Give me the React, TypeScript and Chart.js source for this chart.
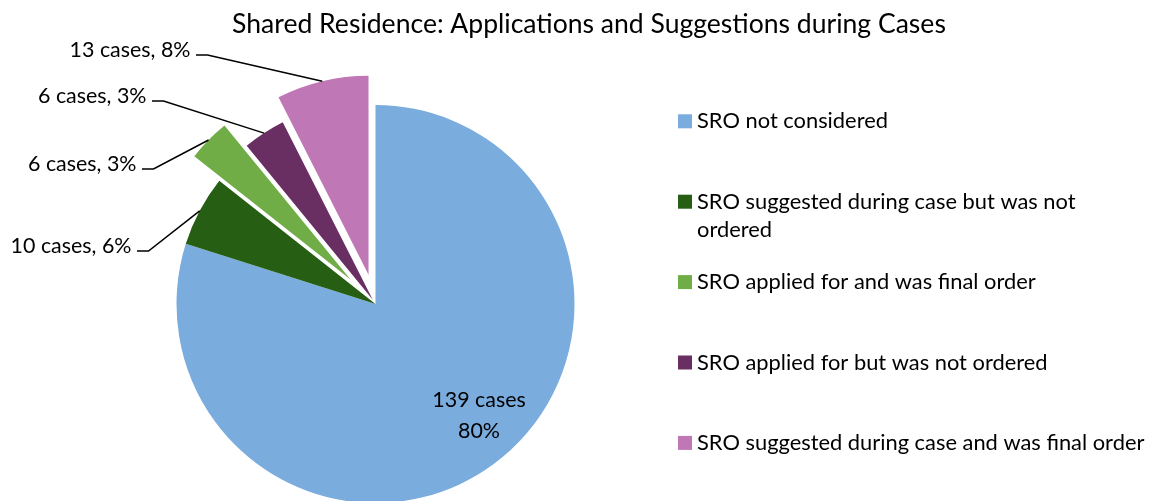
import React, { useEffect, useRef } from "react";
import { Chart, registerables } from "chart.js";

Chart.register(...registerables);

const chartTitle = "Shared Residence: Applications and Suggestions during Cases";
const categories = [
  "SRO not considered",
  "SRO suggested during case but was not ordered",
  "SRO applied for and was final order",
  "SRO applied for but was not ordered",
  "SRO suggested during case and was final order",
];
const cases = [139, 10, 6, 6, 13];
const percentLabels = [80, 6, 3, 3, 8];
const colors = ["#7AACDD", "#265E13", "#70AD47", "#6A2F62", "#C077B6"];
// explosion distance (px) of each slice
const explode = [0, 0, 35, 5, 30];
// outside label elbow anchors (layout), null = inside label
const labelAnchors: ({ x: number; y: number } | null)[] = [
  null,
  { x: 137, y: 251 },
  { x: 142, y: 169 },
  { x: 152, y: 101 },
  { x: 196, y: 55 },
];

const FONT = "Lato";

function fitSize(ctx: CanvasRenderingContext2D, text: string, target: number) {
  ctx.font = `100px ${FONT}`;
  const w = ctx.measureText(text).width;
  return (100 * target) / w;
}

function wrap(ctx: CanvasRenderingContext2D, text: string, maxW: number) {
  const words = text.split(" ");
  const lines: string[] = [];
  let cur = "";
  for (const w of words) {
    const t = cur ? cur + " " + w : w;
    if (ctx.measureText(t).width > maxW && cur) {
      lines.push(cur);
      cur = w;
    } else cur = t;
  }
  if (cur) lines.push(cur);
  return lines;
}

const explodePlugin = {
  id: "explodeSlices",
  afterDatasetUpdate(chart: any, args: any) {
    const meta = chart.getDatasetMeta(args.index);
    meta.data.forEach((arc: any, i: number) => {
      const d = explode[i] || 0;
      if (!d) return;
      const mid = (arc.startAngle + arc.endAngle) / 2;
      arc.x += d * Math.cos(mid);
      arc.y += d * Math.sin(mid);
    });
  },
};

const annotatePlugin = {
  id: "annotate",
  afterDraw(chart: any) {
    const ctx: CanvasRenderingContext2D = chart.ctx;
    const meta = chart.getDatasetMeta(0);
    ctx.save();
    ctx.fillStyle = "#000";

    // title
    const tSize = fitSize(ctx, chartTitle, 714);
    ctx.font = `${tSize}px ${FONT}`;
    ctx.textAlign = "center";
    ctx.textBaseline = "alphabetic";
    ctx.fillText(chartTitle, 589, 33);

    // data labels
    const lblSize = fitSize(ctx, `${cases[4]} cases, ${percentLabels[4]}%`, 121);
    ctx.font = `${lblSize}px ${FONT}`;
    meta.data.forEach((arc: any, i: number) => {
      const mid = (arc.startAngle + arc.endAngle) / 2;
      const anchor = labelAnchors[i];
      if (!anchor) {
        const a = mid - 0.117;
        const r = arc.outerRadius * 0.764;
        const cx = arc.x + r * Math.cos(a);
        const cy = arc.y + r * Math.sin(a);
        ctx.textAlign = "center";
        ctx.fillText(`${cases[i]} cases`, cx, cy - 8);
        ctx.fillText(`${percentLabels[i]}%`, cx, cy + 22.3);
      } else {
        const ex = arc.x + arc.outerRadius * Math.cos(mid);
        const ey = arc.y + arc.outerRadius * Math.sin(mid);
        ctx.strokeStyle = "#000";
        ctx.lineWidth = 1.5;
        ctx.beginPath();
        ctx.moveTo(anchor.x, anchor.y);
        ctx.lineTo(anchor.x + 11.5, anchor.y);
        ctx.lineTo(ex, ey);
        ctx.stroke();
        ctx.textAlign = "right";
        ctx.fillText(`${cases[i]} cases, ${percentLabels[i]}%`, anchor.x - 5.5, anchor.y + 1.5);
      }
    });

    // legend
    const legSize = fitSize(ctx, categories[0], 191);
    ctx.font = `${legSize}px ${FONT}`;
    ctx.textAlign = "left";
    const baseY = 128.3;
    const step = 80.4;
    categories.forEach((c, i) => {
      const by = baseY + step * i;
      ctx.fillStyle = colors[i];
      ctx.fillRect(678, by - 14, 14, 14);
      ctx.fillStyle = "#000";
      const lines = wrap(ctx, c, 455);
      lines.forEach((ln, j) => ctx.fillText(ln, 697, by + j * 28.4));
    });
    ctx.restore();
  },
};

export default function App() {
  const ref = useRef<HTMLCanvasElement | null>(null);
  useEffect(() => {
    document.body.style.margin = "0";
    const canvas = ref.current!;
    const chart = new Chart(canvas, {
      type: "pie",
      data: {
        labels: categories,
        datasets: [
          {
            data: cases,
            backgroundColor: colors,
            borderWidth: 0,
            radius: 199,
            clip: false,
          } as any,
        ],
      },
      options: {
        responsive: false,
        animation: false,
        devicePixelRatio: 1,
        layout: { padding: { left: 275.5, right: 677.5, top: 204, bottom: 97 } },
        plugins: {
          legend: { display: false },
          title: { display: false },
          tooltip: { enabled: false },
        },
      } as any,
      plugins: [explodePlugin, annotatePlugin],
    });
    return () => chart.destroy();
  }, []);
  return (
    <div style={{ width: 1153, height: 501, background: "#fff" }}>
      <canvas ref={ref} width={1153} height={501} style={{ display: "block" }} />
    </div>
  );
}
